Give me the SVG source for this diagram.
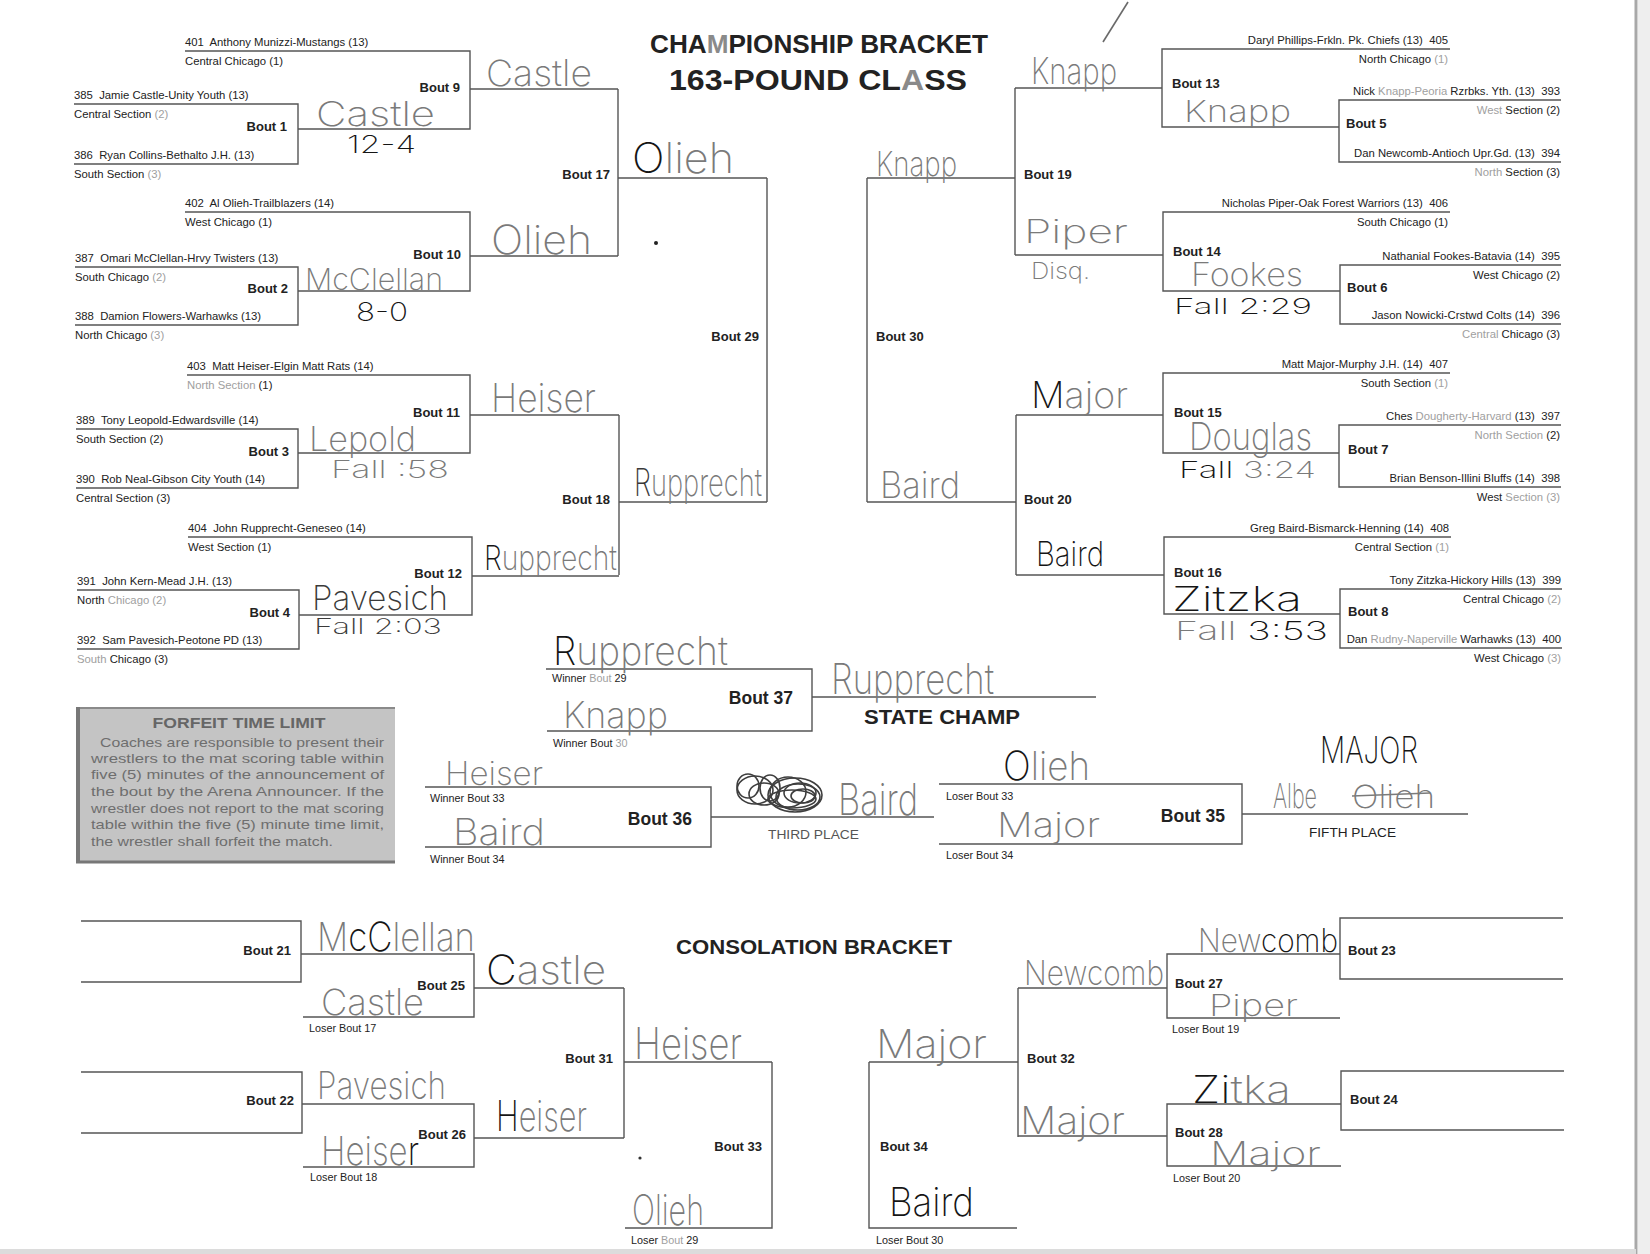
<svg xmlns="http://www.w3.org/2000/svg" width="1650" height="1254" viewBox="0 0 1650 1254">
<style>
.ln{fill:none;stroke:#555;stroke-width:1.4}
.t{font-family:"Liberation Sans",Arial,sans-serif;font-size:11.3px;fill:#222;white-space:pre}
.r{text-anchor:end}
.g{fill:#a0a0a0}
.s{font-size:10.8px}
.b{font-family:"Liberation Sans",Arial,sans-serif;font-weight:bold;font-size:13px;fill:#222}
.bb{font-size:17.5px}
.hw{font-family:Inter,"Open Sans","DejaVu Sans",sans-serif;font-weight:200;fill:#7a7a7a}
.hk{fill:#151515}
.hd{fill:#3a3a3a}
.ff{font-family:"Liberation Sans",Arial,sans-serif;font-size:13px;fill:#6e6e6e}
</style>
<rect width="1650" height="1254" fill="#fff"/>
<rect x="1638" y="0" width="12" height="1254" fill="#eeeeee"/>
<line x1="1636" y1="0" x2="1636" y2="1254" stroke="#a8a8a8" stroke-width="3"/>
<rect x="0" y="1249" width="1636" height="5" fill="#dcdcdc"/>

<g id="titles">
<text x="819" y="53" text-anchor="middle" class="b" style="font-size:25px" textLength="338" lengthAdjust="spacingAndGlyphs">CHA<tspan fill="#8a8a8a">M</tspan>PIONSHIP BRACKET</text>
<text x="818" y="90" text-anchor="middle" class="b" style="font-size:29px" textLength="298" lengthAdjust="spacingAndGlyphs">163-POUND CL<tspan fill="#8a8a8a">A</tspan>SS</text>
<text x="864" y="724" class="b" style="font-size:20px" textLength="156" lengthAdjust="spacingAndGlyphs">STATE CHAMP</text>
<text x="676" y="954" class="b" style="font-size:20px" textLength="276" lengthAdjust="spacingAndGlyphs">CONSOLATION BRACKET</text>
<text x="768" y="839" class="t" style="font-size:13.5px;fill:#555" textLength="91" lengthAdjust="spacingAndGlyphs">THIRD PLACE</text>
<text x="1309" y="837" class="t" style="font-size:13.5px" textLength="87" lengthAdjust="spacingAndGlyphs">FIFTH PLACE</text>
</g>

<g id="forfeit-box">
<rect x="76" y="707" width="319" height="156" fill="#c4c4c4"/>
<line x1="76" y1="708" x2="395" y2="708" stroke="#8a8a8a" stroke-width="2"/>
<line x1="76" y1="862" x2="395" y2="862" stroke="#777" stroke-width="3"/>
<line x1="78" y1="707" x2="78" y2="863" stroke="#777" stroke-width="4"/>
<text x="239" y="728" text-anchor="middle" class="b" style="font-size:14px;fill:#666" textLength="173" lengthAdjust="spacingAndGlyphs">FORFEIT TIME LIMIT</text>
<text x="100" y="747" class="ff" textLength="284" lengthAdjust="spacingAndGlyphs">Coaches are responsible to present their</text>
<text x="91" y="763" class="ff" textLength="293" lengthAdjust="spacingAndGlyphs">wrestlers to the mat scoring table within</text>
<text x="91" y="779" class="ff" textLength="293" lengthAdjust="spacingAndGlyphs">five (5) minutes of the announcement of</text>
<text x="91" y="796" class="ff" textLength="293" lengthAdjust="spacingAndGlyphs">the bout by the Arena Announcer. If the</text>
<text x="91" y="813" class="ff" textLength="293" lengthAdjust="spacingAndGlyphs">wrestler does not report to the mat scoring</text>
<text x="91" y="829" class="ff" textLength="293" lengthAdjust="spacingAndGlyphs">table within the five (5) minute time limit,</text>
<text x="91" y="846" class="ff" textLength="242" lengthAdjust="spacingAndGlyphs">the wrestler shall forfeit the match.</text>
</g>

<g id="connectors" class="ln">
<path d="M470,89 H618 M470,256 H618 M470,415 H619 M472,576 H619 M618,178 H767 M619,502 H767"/>
<path d="M1162,88 H1015 M1163,255 H1015 M1163,415 H1016 M1164,575 H1016 M1015,178 H867 M1016,502 H867"/>
<path d="M812,697 H1096 M711,817 H934 M1242,814 H1468"/>
<path d="M474,988 H624 M474,1138 H624 M624,1062 H772 M1167,988 H1018 M1167,1136 H1018 M1018,1062 H869"/>
</g>

<g id="bout1"><path class="ln" d="M74,104 H298 V164 H74"/>
<text class="t" x="74" y="99">385  Jamie Castle-Unity Youth (13)</text>
<text class="t" x="74" y="118">Central Section <tspan class="g">(2)</tspan></text>
<text class="t" x="74" y="159">386  Ryan Collins-Bethalto J.H. (13)</text>
<text class="t" x="74" y="178">South Section <tspan class="g">(3)</tspan></text>
<text class="b r" x="287" y="131">Bout 1</text></g>
<g id="bout9"><path class="ln" d="M185,51 H470 V129 H298"/>
<text class="t" x="185" y="46">401  Anthony Munizzi-Mustangs (13)</text>
<text class="t" x="185" y="65">Central Chicago (1)</text>
<text class="b r" x="460" y="92">Bout 9</text></g>

<g id="bout2"><path class="ln" d="M75,267 H298 V325 H75"/>
<text class="t" x="75" y="262">387  Omari McClellan-Hrvy Twisters (13)</text>
<text class="t" x="75" y="281">South Chicago <tspan class="g">(2)</tspan></text>
<text class="t" x="75" y="320">388  Damion Flowers-Warhawks (13)</text>
<text class="t" x="75" y="339">North Chicago <tspan class="g">(3)</tspan></text>
<text class="b r" x="288" y="293">Bout 2</text></g>
<g id="bout10"><path class="ln" d="M185,212 H470 V291 H298"/>
<text class="t" x="185" y="207">402  Al Olieh-Trailblazers (14)</text>
<text class="t" x="185" y="226">West Chicago (1)</text>
<text class="b r" x="461" y="259">Bout 10</text></g>

<g id="bout3"><path class="ln" d="M76,429 H298 V488 H76"/>
<text class="t" x="76" y="424">389  Tony Leopold-Edwardsville (14)</text>
<text class="t" x="76" y="443">South Section (2)</text>
<text class="t" x="76" y="483">390  Rob Neal-Gibson City Youth (14)</text>
<text class="t" x="76" y="502">Central Section (3)</text>
<text class="b r" x="289" y="456">Bout 3</text></g>
<g id="bout11"><path class="ln" d="M187,375 H470 V453 H298"/>
<text class="t" x="187" y="370">403  Matt Heiser-Elgin Matt Rats (14)</text>
<text class="t" x="187" y="389"><tspan class="g">North Section</tspan> (1)</text>
<text class="b r" x="460" y="417">Bout 11</text></g>

<g id="bout4"><path class="ln" d="M77,590 H299 V649 H77"/>
<text class="t" x="77" y="585">391  John Kern-Mead J.H. (13)</text>
<text class="t" x="77" y="604">North <tspan class="g">Chicago (2)</tspan></text>
<text class="t" x="77" y="644">392  Sam Pavesich-Peotone PD (13)</text>
<text class="t" x="77" y="663"><tspan class="g">South</tspan> Chicago (3)</text>
<text class="b r" x="290" y="617">Bout 4</text></g>
<g id="bout12"><path class="ln" d="M188,537 H472 V615 H299"/>
<text class="t" x="188" y="532">404  John Rupprecht-Geneseo (14)</text>
<text class="t" x="188" y="551">West Section (1)</text>
<text class="b r" x="462" y="578">Bout 12</text></g>

<g id="bout17"><path class="ln" d="M618,89 V256"/><text class="b r" x="610" y="179">Bout 17</text></g>
<g id="bout18"><path class="ln" d="M619,415 V575"/><text class="b r" x="610" y="504">Bout 18</text></g>
<g id="bout29"><path class="ln" d="M767,178 V502"/><text class="b r" x="759" y="341">Bout 29</text></g>

<g id="bout5"><path class="ln" d="M1561,100 H1339 V162 H1561"/>
<text class="t r" x="1560" y="95">Nick <tspan class="g">Knapp-Peoria</tspan> Rzrbks. Yth. (13)  393</text>
<text class="t r" x="1560" y="114"><tspan class="g">West</tspan> Section (2)</text>
<text class="t r" x="1560" y="157">Dan Newcomb-Antioch Upr.Gd. (13)  394</text>
<text class="t r" x="1560" y="176"><tspan class="g">North</tspan> Section (3)</text>
<text class="b" x="1346" y="128">Bout 5</text></g>
<g id="bout13"><path class="ln" d="M1450,49 H1162 V127 H1339"/>
<text class="t r" x="1448" y="44">Daryl Phillips-Frkln. Pk. Chiefs (13)  405</text>
<text class="t r" x="1448" y="63">North Chicago <tspan class="g">(1)</tspan></text>
<text class="b" x="1172" y="88">Bout 13</text></g>

<g id="bout6"><path class="ln" d="M1561,265 H1340 V324 H1561"/>
<text class="t r" x="1560" y="260">Nathanial Fookes-Batavia (14)  395</text>
<text class="t r" x="1560" y="279">West Chicago (2)</text>
<text class="t r" x="1560" y="319">Jason Nowicki-Crstwd Colts (14)  396</text>
<text class="t r" x="1560" y="338"><tspan class="g">Central</tspan> Chicago (3)</text>
<text class="b" x="1347" y="292">Bout 6</text></g>
<g id="bout14"><path class="ln" d="M1450,212 H1163 V291 H1340"/>
<text class="t r" x="1448" y="207">Nicholas Piper-Oak Forest Warriors (13)  406</text>
<text class="t r" x="1448" y="226">South Chicago (1)</text>
<text class="b" x="1173" y="256">Bout 14</text></g>

<g id="bout7"><path class="ln" d="M1561,425 H1339 V487 H1561"/>
<text class="t r" x="1560" y="420">Ches <tspan class="g">Dougherty-Harvard</tspan> (13)  397</text>
<text class="t r" x="1560" y="439"><tspan class="g">North Section</tspan> (2)</text>
<text class="t r" x="1560" y="482">Brian Benson-Illini Bluffs (14)  398</text>
<text class="t r" x="1560" y="501">West <tspan class="g">Section (3)</tspan></text>
<text class="b" x="1348" y="454">Bout 7</text></g>
<g id="bout15"><path class="ln" d="M1450,373 H1163 V453 H1339"/>
<text class="t r" x="1448" y="368">Matt Major-Murphy J.H. (14)  407</text>
<text class="t r" x="1448" y="387">South Section <tspan class="g">(1)</tspan></text>
<text class="b" x="1174" y="417">Bout 15</text></g>

<g id="bout8"><path class="ln" d="M1562,589 H1340 V648 H1562"/>
<text class="t r" x="1561" y="584">Tony Zitzka-Hickory Hills (13)  399</text>
<text class="t r" x="1561" y="603">Central Chicago <tspan class="g">(2)</tspan></text>
<text class="t r" x="1561" y="643">Dan <tspan class="g">Rudny-Naperville</tspan> Warhawks (13)  400</text>
<text class="t r" x="1561" y="662">West Chicago <tspan class="g">(3)</tspan></text>
<text class="b" x="1348" y="616">Bout 8</text></g>
<g id="bout16"><path class="ln" d="M1451,537 H1164 V614 H1340"/>
<text class="t r" x="1449" y="532">Greg Baird-Bismarck-Henning (14)  408</text>
<text class="t r" x="1449" y="551">Central Section <tspan class="g">(1)</tspan></text>
<text class="b" x="1174" y="577">Bout 16</text></g>

<g id="bout19"><path class="ln" d="M1015,88 V255"/><text class="b" x="1024" y="179">Bout 19</text></g>
<g id="bout20"><path class="ln" d="M1016,415 V575"/><text class="b" x="1024" y="504">Bout 20</text></g>
<g id="bout30"><path class="ln" d="M867,178 V502"/><text class="b" x="876" y="341">Bout 30</text></g>

<g id="bout37"><path class="ln" d="M546,669 H812 V731 H547"/>
<text class="t s" x="552" y="682">Winner <tspan class="g">Bout</tspan> 29</text>
<text class="t s" x="553" y="747">Winner Bout <tspan class="g">30</tspan></text>
<text class="b bb r" x="793" y="704">Bout 37</text></g>
<g id="bout36"><path class="ln" d="M425,787 H711 V847 H425"/>
<text class="t s" x="430" y="802">Winner Bout 33</text>
<text class="t s" x="430" y="863">Winner Bout 34</text>
<text class="b bb r" x="692" y="825">Bout 36</text></g>
<g id="bout35"><path class="ln" d="M939,784 H1242 V844 H939"/>
<text class="t s" x="946" y="800">Loser Bout 33</text>
<text class="t s" x="946" y="859">Loser Bout 34</text>
<text class="b bb r" x="1225" y="822">Bout 35</text></g>

<g id="bout21"><path class="ln" d="M81,921 H301 V982 H81"/><text class="b r" x="291" y="955">Bout 21</text></g>
<g id="bout22"><path class="ln" d="M81,1072 H302 V1133 H81"/><text class="b r" x="294" y="1105">Bout 22</text></g>
<g id="bout25"><path class="ln" d="M301,954 H474 V1017 H303"/><text class="b r" x="465" y="990">Bout 25</text><text class="t s" x="309" y="1032">Loser Bout 17</text></g>
<g id="bout26"><path class="ln" d="M302,1104 H474 V1167 H303"/><text class="b r" x="466" y="1139">Bout 26</text><text class="t s" x="310" y="1181">Loser Bout 18</text></g>
<g id="bout31"><path class="ln" d="M624,988 V1138"/><text class="b r" x="613" y="1063">Bout 31</text></g>
<g id="bout33"><path class="ln" d="M772,1062 V1228 H625"/><text class="b r" x="762" y="1151">Bout 33</text><text class="t s" x="631" y="1244">Loser <tspan class="g">Bout</tspan> 29</text></g>
<g id="bout34"><path class="ln" d="M869,1062 V1228 H1017"/><text class="b" x="880" y="1151">Bout 34</text><text class="t s" x="876" y="1244">Loser Bout 30</text></g>
<g id="bout32"><path class="ln" d="M1018,988 V1137"/><text class="b" x="1027" y="1063">Bout 32</text></g>
<g id="bout27"><path class="ln" d="M1340,954 H1167 V1018 H1340"/><text class="b" x="1175" y="988">Bout 27</text><text class="t s" x="1172" y="1033">Loser Bout 19</text></g>
<g id="bout28"><path class="ln" d="M1341,1104 H1167 V1166 H1341"/><text class="b" x="1175" y="1137">Bout 28</text><text class="t s" x="1173" y="1182">Loser Bout 20</text></g>
<g id="bout23"><path class="ln" d="M1563,918 H1340 V979 H1563"/><text class="b" x="1348" y="955">Bout 23</text></g>
<g id="bout24"><path class="ln" d="M1564,1071 H1341 V1130 H1564"/><text class="b" x="1350" y="1104">Bout 24</text></g>

<g id="handwriting">
<line x1="1128" y1="2" x2="1103" y2="42" stroke="#6a6a6a" stroke-width="1.6"/>
<text class="hw" x="486" y="86" font-size="36" textLength="106" lengthAdjust="spacingAndGlyphs">Castle</text>
<text class="hw" x="316" y="126" font-size="34" textLength="119" lengthAdjust="spacingAndGlyphs">Castle</text>
<text class="hw hk" x="347" y="153" font-size="24" textLength="69" lengthAdjust="spacingAndGlyphs">12-4</text>
<text class="hw" x="491" y="254" font-size="40" textLength="101" lengthAdjust="spacingAndGlyphs">Olieh</text>
<text class="hw" x="305" y="290" font-size="30" textLength="138" lengthAdjust="spacingAndGlyphs">McClellan</text>
<text class="hw hk" x="356" y="321" font-size="26" textLength="52" lengthAdjust="spacingAndGlyphs">8-0</text>
<text class="hw" x="491" y="412" font-size="40" textLength="105" lengthAdjust="spacingAndGlyphs">Heiser</text>
<text class="hw" x="309" y="451" font-size="34" textLength="107" lengthAdjust="spacingAndGlyphs">Lepold</text>
<text class="hw" x="331" y="478" font-size="24" textLength="118" lengthAdjust="spacingAndGlyphs">Fall  :58</text>
<text class="hw" x="484" y="570" font-size="34" textLength="133" lengthAdjust="spacingAndGlyphs"><tspan class="hk">R</tspan>upprecht</text>
<text class="hw hd" x="312" y="610" font-size="34" textLength="136" lengthAdjust="spacingAndGlyphs">Pavesich</text>
<text class="hw hd" x="314" y="634" font-size="21" textLength="128" lengthAdjust="spacingAndGlyphs">Fall 2:03</text>
<text class="hw" x="632" y="173" font-size="42" textLength="102" lengthAdjust="spacingAndGlyphs"><tspan class="hk">O</tspan>lieh</text>
<text class="hw" x="634" y="496" font-size="38" textLength="128" lengthAdjust="spacingAndGlyphs"><tspan class="hd">R</tspan>upprecht</text>
<text class="hw" x="876" y="176" font-size="34" textLength="81" lengthAdjust="spacingAndGlyphs">Knapp</text>
<text class="hw" x="1031" y="84" font-size="36" textLength="86" lengthAdjust="spacingAndGlyphs">Knapp</text>
<text class="hw" x="1184" y="122" font-size="30" textLength="107" lengthAdjust="spacingAndGlyphs">Knapp</text>
<text class="hw" x="1024" y="243" font-size="32" textLength="104" lengthAdjust="spacingAndGlyphs">Piper</text>
<text class="hw" x="1031" y="279" font-size="23" textLength="59" lengthAdjust="spacingAndGlyphs">Disq.</text>
<text class="hw" x="1191" y="286" font-size="32" textLength="112" lengthAdjust="spacingAndGlyphs">Fookes</text>
<text class="hw hk" x="1174" y="314" font-size="22" textLength="138" lengthAdjust="spacingAndGlyphs">Fall   2:29</text>
<text class="hw" x="1031" y="408" font-size="36" textLength="97" lengthAdjust="spacingAndGlyphs"><tspan class="hk">M</tspan>ajor</text>
<text class="hw" x="1189" y="450" font-size="38" textLength="123" lengthAdjust="spacingAndGlyphs">Douglas</text>
<text class="hw" x="1179" y="478" font-size="23" textLength="137" lengthAdjust="spacingAndGlyphs"><tspan class="hk">Fall</tspan>  3:24</text>
<text class="hw" x="880" y="498" font-size="36" textLength="80" lengthAdjust="spacingAndGlyphs">Baird</text>
<text class="hw hk" x="1036" y="566" font-size="34" textLength="68" lengthAdjust="spacingAndGlyphs">Baird</text>
<text class="hw hk" x="1172" y="611" font-size="34" textLength="130" lengthAdjust="spacingAndGlyphs">Zitzka</text>
<text class="hw" x="1175" y="640" font-size="26" textLength="153" lengthAdjust="spacingAndGlyphs">Fall  <tspan class="hk">3:53</tspan></text>
<text class="hw" x="553" y="665" font-size="40" textLength="175" lengthAdjust="spacingAndGlyphs"><tspan class="hk">R</tspan>upprecht</text>
<text class="hw" x="563" y="728" font-size="36" textLength="105" lengthAdjust="spacingAndGlyphs">Knapp</text>
<text class="hw" x="831" y="694" font-size="42" textLength="163" lengthAdjust="spacingAndGlyphs">Rupprecht</text>
<text class="hw" x="445" y="785" font-size="32" textLength="98" lengthAdjust="spacingAndGlyphs">Heiser</text>
<text class="hw" x="453" y="845" font-size="36" textLength="92" lengthAdjust="spacingAndGlyphs">Baird</text>
<g fill="none" stroke="#3e3e3e" stroke-width="1.6">
<ellipse cx="755" cy="790" rx="18" ry="14"/><ellipse cx="764" cy="794" rx="15" ry="11"/><ellipse cx="748" cy="786" rx="11" ry="12"/><ellipse cx="770" cy="788" rx="10" ry="13"/>
<ellipse cx="795" cy="795" rx="27" ry="17"/><ellipse cx="798" cy="797" rx="22" ry="13"/><ellipse cx="800" cy="793" rx="16" ry="10"/><ellipse cx="792" cy="799" rx="24" ry="9"/><ellipse cx="803" cy="796" rx="12" ry="7"/><ellipse cx="788" cy="792" rx="18" ry="15"/>
</g>
<text class="hw" x="838" y="815" font-size="44" textLength="80" lengthAdjust="spacingAndGlyphs">Baird</text>
<text class="hw" x="1003" y="780" font-size="40" textLength="87" lengthAdjust="spacingAndGlyphs"><tspan class="hk">O</tspan>lieh</text>
<text class="hw" x="997" y="837" font-size="34" textLength="103" lengthAdjust="spacingAndGlyphs">Major</text>
<text class="hw hk" x="1320" y="763" font-size="36" textLength="98" lengthAdjust="spacingAndGlyphs">MAJOR</text>
<text class="hw" x="1273" y="808" font-size="34" textLength="44" lengthAdjust="spacingAndGlyphs">Albe</text>
<text class="hw" x="1352" y="808" font-size="32" textLength="83" lengthAdjust="spacingAndGlyphs">Olieh</text>
<line x1="1352" y1="796" x2="1430" y2="793" stroke="#7a7a7a" stroke-width="1.5"/>
<text class="hw" x="317" y="951" font-size="40" textLength="158" lengthAdjust="spacingAndGlyphs">M<tspan class="hk">cC</tspan>lellan</text>
<text class="hw" x="321" y="1015" font-size="36" textLength="103" lengthAdjust="spacingAndGlyphs">Castle</text>
<text class="hw" x="486" y="984" font-size="40" textLength="120" lengthAdjust="spacingAndGlyphs"><tspan class="hk">C</tspan>astle</text>
<text class="hw" x="317" y="1099" font-size="38" textLength="129" lengthAdjust="spacingAndGlyphs">Pavesich</text>
<text class="hw" x="321" y="1165" font-size="40" textLength="98" lengthAdjust="spacingAndGlyphs">Heise<tspan class="hk">r</tspan></text>
<text class="hw" x="496" y="1131" font-size="42" textLength="91" lengthAdjust="spacingAndGlyphs"><tspan class="hk">H</tspan>eiser</text>
<text class="hw" x="634" y="1059" font-size="44" textLength="108" lengthAdjust="spacingAndGlyphs">Heiser</text>
<text class="hw" x="632" y="1225" font-size="42" textLength="72" lengthAdjust="spacingAndGlyphs">Olieh</text>
<text class="hw" x="876" y="1058" font-size="40" textLength="111" lengthAdjust="spacingAndGlyphs">Major</text>
<text class="hw hk" x="889" y="1216" font-size="40" textLength="85" lengthAdjust="spacingAndGlyphs">Baird</text>
<text class="hw" x="1024" y="985" font-size="34" textLength="140" lengthAdjust="spacingAndGlyphs">Newcomb</text>
<text class="hw" x="1198" y="952" font-size="32" textLength="140" lengthAdjust="spacingAndGlyphs">New<tspan class="hk">comb</tspan></text>
<text class="hw" x="1209" y="1016" font-size="30" textLength="89" lengthAdjust="spacingAndGlyphs">Piper</text>
<text class="hw" x="1020" y="1134" font-size="38" textLength="105" lengthAdjust="spacingAndGlyphs">Major</text>
<text class="hw" x="1192" y="1103" font-size="38" textLength="99" lengthAdjust="spacingAndGlyphs"><tspan class="hk">Zi</tspan>tka</text>
<text class="hw" x="1210" y="1165" font-size="32" textLength="111" lengthAdjust="spacingAndGlyphs">Major</text>
<circle cx="656" cy="243" r="2" fill="#222"/>
<circle cx="640" cy="1158" r="1.6" fill="#333"/>
</g>
</svg>
